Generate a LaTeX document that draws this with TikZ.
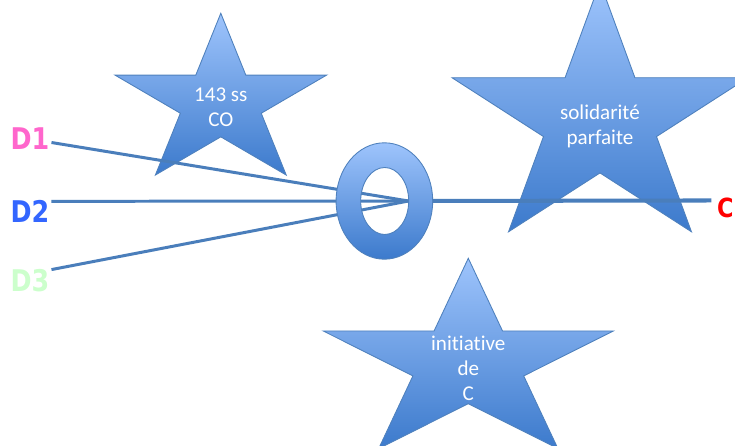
\documentclass[tikz,border=0pt]{standalone}
\usepackage{fontspec}
\setmainfont{Carlito}[Ligatures=NoCommon]
\newfontfamily\labfont{DejaVu Sans}[FakeStretch=0.85]

\definecolor{startop}{RGB}{158,196,252}
\definecolor{starbot}{RGB}{60,122,204}
\definecolor{starline}{RGB}{79,129,189}
\definecolor{linkblue}{RGB}{74,126,187}
\definecolor{dpink}{RGB}{255,102,204}
\definecolor{dblue}{RGB}{51,102,255}
\definecolor{dgreen}{RGB}{204,255,204}

\begin{document}
\begin{tikzpicture}[x=0.02cm, y=-0.02cm,
  starfill/.style={draw=starline, line width=0.5pt, top color=startop, bottom color=starbot},
  startext/.style={text=white, align=center, font=\fontsize{12}{14.2}\selectfont},
  dlabel/.style={font=\labfont\bfseries\fontsize{17}{20}\selectfont, inner sep=1pt},
  link/.style={draw=linkblue, line width=1.7pt},
  mainlink/.style={draw=linkblue, line width=2.3pt}]

  \useasboundingbox (0,0) rectangle (735,446);
  \clip (0,0) rectangle (735,446);

  % stars
  \foreach \cx/\cy/\a/\b in {220.8/102.7/111.3/89.4, 600/120.3/155.6/137.8, 468.3/363.5/152.5/105.2}
    \path[starfill, shift={(\cx,\cy)}, xscale=\a, yscale=\b]
      (270:1) \foreach \k in {0,...,4} { -- (306+72*\k:0.382) -- (342+72*\k:1) } -- cycle;

  \node[startext] (co) at (220.8,107.5) {143 ss\\CO};
  \node[startext] (solid) at (600,126.5) {solidarité\\parfaite};
  \node[startext] (init) at (468.3,368) {initiative\\de\\C};

  % labels
  \node[dlabel, text=dpink] (d1) at (30,139) {D1};
  \node[dlabel, text=dblue] (d2) at (30,211) {D2};
  \node[dlabel, text=dgreen] (d3) at (30,281) {D3};
  \node[font=\labfont\bfseries\fontsize{15}{18}\selectfont, text=red, anchor=west, inner sep=0pt] (c) at (716.7,207.5) {C};

  \coordinate (hub) at (408.5,201);

  % links
  \draw[link] ([yshift=-2pt]d1.east) -- (hub);
  \draw[link] ([yshift=5.5pt]d2.east) -- (hub);
  \draw[link] ([yshift=6.5pt]d3.east) -- (hub);
  \draw[mainlink] (hub) -- ([xshift=-3pt,yshift=4pt]c.west);

  % the O
  \path[starfill, even odd rule]
    (384.4,201) ellipse [x radius=48.3, y radius=58.2]
    (384.7,201) ellipse [x radius=24, y radius=33.5];
\end{tikzpicture}
\end{document}
